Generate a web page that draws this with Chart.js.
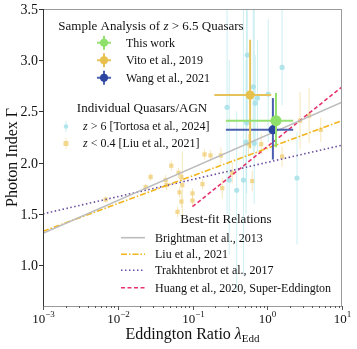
<!DOCTYPE html>
<html>
<head>
<meta charset="utf-8">
<script src="https://cdn.jsdelivr.net/npm/chart.js@4.4.0/dist/chart.umd.min.js"></script>
<style>
  html, body { margin: 0; padding: 0; background: #fff; }
</style>
</head>
<body>
<canvas id="chart" width="357" height="349"></canvas>
<script>
// ---- data ----
const xTicks = [1e-3, 1e-2, 1e-1, 1, 10];
const xTickExp = ['\u22123', '\u22122', '\u22121', '0', '1'];
const yTicks = [1.0, 1.5, 2.0, 2.5, 3.0, 3.5];

// z > 6.5 sample analyses
const sampleNames = ['This work', 'Vito et al., 2019', 'Wang et al., 2021'];
const sampleLambda = [1.31, 0.59, 1.19];
const sampleLambdaLo = [0.28, 0.196, 0.28];
const sampleLambdaHi = [2.22, 1.13, 2.22];
const sampleGamma = [2.41, 2.66, 2.32];
const sampleGammaLo = [2.15, 2.14, 2.03];
const sampleGammaHi = [2.68, 3.20, 2.63];

// z > 6 individual quasars [Tortosa et al., 2024]
const tortosaLambda = [0.54, 1.58, 0.65, 0.74, 0.69, 1.03, 0.29, 0.53, 0.52, 0.67, 0.31, 0.48, 2.5, 0.39];
const tortosaGamma = [3.05, 2.93, 2.74, 2.63, 2.58, 2.67, 2.54, 2.39, 2.20, 2.19, 1.83, 1.83, 1.85, 1.73];
const tortosaGammaLo = [2.35, 2.56, 2.10, 2.10, 2.15, 2.20, 1.50, 1.70, 1.50, 1.60, 1.10, 0.90, 1.20, 0.75];
const tortosaGammaHi = [3.70, 3.60, 3.60, 3.20, 3.05, 3.40, 3.60, 3.60, 3.00, 3.60, 3.00, 3.60, 2.30, 2.50];

// z < 0.4 AGN [Liu et al., 2021]
const liuLambda = [0.0069, 0.0236, 0.0275, 0.052, 0.065, 0.071, 0.0437, 0.045, 0.067, 0.071, 0.10, 0.10,
                   0.145, 0.174, 0.063, 0.24, 0.56, 0.83, 1.58, 0.25, 0.63, 0.34, 2.75, 3.63, 5.2, 0.136, 0.073];
const liuGamma = [1.64, 1.76, 1.86, 1.97, 1.90, 1.86, 1.83, 1.78, 1.71, 1.62, 1.70, 1.63,
                  2.08, 2.07, 1.52, 2.07, 2.18, 2.18, 2.06, 1.75, 1.82, 1.90, 2.41, 2.46, 2.32, 1.79, 1.78];
const liuGammaErr = [0.03, 0.03, 0.04, 0.05, 0.05, 0.05, 0.05, 0.05, 0.05, 0.06, 0.05, 0.05,
                     0.05, 0.05, 0.05, 0.08, 0.10, 0.10, 0.10, 0.10, 0.10, 0.10, 0.28, 0.27, 0.12, 0.05, 0.33];

// best-fit relations, end points
const fitLambda = [1e-3, 10];
const brightmanGamma = [1.31, 2.59];
const liuFitGamma = [1.33, 2.41];
const trakhGamma = [1.50, 2.17];
const huangLambda = [0.1, 10];
const huangGamma = [1.57, 2.74];
const fitNames = ['Brightman et al., 2013', 'Liu et al., 2021', 'Trakhtenbrot et al., 2017', 'Huang et al., 2020, Super-Eddington'];

// ---- styles ----
const FONT = "'Liberation Serif', 'Times New Roman', serif";
const sampleColors = ['#8fe06a', '#e8c04c', '#2c45a0'];
const sampleErrColors = ['#94e070', '#e6c25a', '#4a5fb0'];
const tortosaColor = 'rgba(160, 222, 230, 0.8)';
const tortosaErr = 'rgba(170, 228, 234, 0.6)';
const liuColor = 'rgba(240, 208, 120, 0.8)';
const liuErr = 'rgba(242, 214, 140, 0.6)';
const fitColors = ['#bcbcbc', '#f2b51c', '#6b4e9e', '#e6336b'];
const fitDash = [[], [6, 2, 1.5, 2], [1.5, 2.5], [4, 2.5]];

const pts = (xs, ys) => xs.map((x, i) => ({ x: x, y: ys[i] }));

const datasets = [];
sampleNames.forEach((name, i) => {
  datasets.push({
    label: name,
    data: [{ x: sampleLambda[i], y: sampleGamma[i] }],
    errY: [[sampleGammaLo[i], sampleGammaHi[i]]],
    errX: [[sampleLambdaLo[i], sampleLambdaHi[i]]],
    errColor: sampleErrColors[i], errWidth: 2,
    backgroundColor: sampleColors[i], borderWidth: 0,
    pointRadius: i === 0 ? 5.5 : 4.5, order: 0
  });
});
const fitData = [pts(fitLambda, brightmanGamma), pts(fitLambda, liuFitGamma), pts(fitLambda, trakhGamma), pts(huangLambda, huangGamma)];
fitNames.forEach((name, i) => {
  datasets.push({
    label: name, data: fitData[i], showLine: true, pointRadius: 0,
    borderColor: fitColors[i], borderWidth: 1.6, borderDash: fitDash[i], order: 1
  });
});
datasets.push({
  label: 'Tortosa', data: pts(tortosaLambda, tortosaGamma),
  errY: tortosaGamma.map((g, i) => [tortosaGammaLo[i], tortosaGammaHi[i]]),
  errColor: tortosaErr, errWidth: 1,
  backgroundColor: tortosaColor, borderWidth: 0, pointRadius: 2.6, order: 2
});
datasets.push({
  label: 'Liu', data: pts(liuLambda, liuGamma),
  errY: liuGamma.map((g, i) => [g - liuGammaErr[i], g + liuGammaErr[i]]),
  errColor: liuErr, errWidth: 1,
  backgroundColor: liuColor, borderWidth: 0, pointStyle: 'rect', pointRadius: 3, order: 3
});

// error bars under each dataset's markers
const errorBars = {
  id: 'errorBars',
  beforeDatasetDraw(chart, args) {
    const ds = chart.data.datasets[args.index];
    if (!ds.errY) return;
    const xs = chart.scales.x, ys = chart.scales.y, ctx = chart.ctx, a = chart.chartArea;
    ctx.save();
    ctx.beginPath();
    ctx.rect(a.left, a.top, a.right - a.left, a.bottom - a.top);
    ctx.clip();
    ctx.strokeStyle = ds.errColor;
    ctx.lineWidth = ds.errWidth;
    ds.data.forEach((p, i) => {
      const px = xs.getPixelForValue(p.x), py = ys.getPixelForValue(p.y);
      ctx.beginPath();
      ctx.moveTo(px, ys.getPixelForValue(ds.errY[i][0]));
      ctx.lineTo(px, ys.getPixelForValue(ds.errY[i][1]));
      ctx.stroke();
      if (ds.errX) {
        ctx.beginPath();
        ctx.moveTo(xs.getPixelForValue(ds.errX[i][0]), py);
        ctx.lineTo(xs.getPixelForValue(ds.errX[i][1]), py);
        ctx.stroke();
      }
    });
    ctx.restore();
  }
};

function drawRuns(ctx, parts, x, y, align) {
  let w = 0;
  parts.forEach(p => {
    ctx.font = (p.it ? 'italic ' : '') + p.sz + 'px ' + FONT;
    p.w = ctx.measureText(p.t).width;
    w += p.w;
  });
  let cx = align === 'center' ? x - w / 2 : align === 'right' ? x - w : x;
  ctx.textAlign = 'left';
  ctx.textBaseline = 'alphabetic';
  parts.forEach(p => {
    ctx.font = (p.it ? 'italic ' : '') + p.sz + 'px ' + FONT;
    ctx.fillText(p.t, cx, y + (p.dy || 0));
    cx += p.w;
  });
}
const R = (t, sz, it, dy) => ({ t: t, sz: sz, it: !!it, dy: dy || 0 });

// frame, ticks, axis labels and the three legends
const decorations = {
  id: 'decorations',
  afterDraw(chart) {
    const ctx = chart.ctx, a = chart.chartArea;
    const xs = chart.scales.x, ys = chart.scales.y;
    ctx.save();
    ctx.fillStyle = '#111';

    // frame
    ctx.lineWidth = 1;
    ctx.strokeStyle = '#9a9a9a';
    ctx.strokeRect(a.left + 0.5, a.top + 0.5, a.right - a.left - 1, a.bottom - a.top);
    ctx.strokeStyle = '#333';
    ctx.beginPath(); ctx.moveTo(a.left + 0.5, a.top); ctx.lineTo(a.left + 0.5, a.bottom); ctx.stroke();

    // y ticks
    yTicks.forEach(v => {
      const py = Math.round(ys.getPixelForValue(v)) + 0.5;
      ctx.strokeStyle = '#333';
      ctx.beginPath(); ctx.moveTo(a.left - 4, py); ctx.lineTo(a.left, py); ctx.stroke();
      ctx.font = '14px ' + FONT;
      ctx.textAlign = 'right'; ctx.textBaseline = 'middle';
      ctx.fillText(v.toFixed(1), a.left - 5, py + 1);
    });

    // x ticks (decades + minor)
    ctx.strokeStyle = '#555';
    xTicks.forEach((v, i) => {
      const px = Math.round(xs.getPixelForValue(v)) + 0.5;
      ctx.beginPath(); ctx.moveTo(px, a.bottom); ctx.lineTo(px, a.bottom + 4); ctx.stroke();
      drawRuns(ctx, [R('10', 13), R(xTickExp[i], 9, false, -6)], px, a.bottom + 17, 'center');
      if (i < xTicks.length - 1) {
        for (let m = 2; m <= 9; m++) {
          const mx = Math.round(xs.getPixelForValue(v * m)) + 0.5;
          ctx.beginPath(); ctx.moveTo(mx, a.bottom); ctx.lineTo(mx, a.bottom + 2); ctx.stroke();
        }
      }
    });

    // axis titles
    drawRuns(ctx, [R('Eddington Ratio ', 16), R('\u03bb', 16, true), R('Edd', 11, false, 3)], (a.left + a.right) / 2, 339, 'center');
    ctx.save();
    ctx.translate(17, (a.top + a.bottom) / 2);
    ctx.rotate(-Math.PI / 2);
    drawRuns(ctx, [R('Photon Index \u0393', 16)], 0, 0, 'center');
    ctx.restore();

    // legend 1: sample analyses
    drawRuns(ctx, [R('Sample Analysis of ', 13), R('z', 13, true), R(' > 6.5 Quasars', 13)], 151, 30, 'center');
    const base1 = [46.7, 64.3, 81.7];
    sampleNames.forEach((name, i) => {
      const my = base1[i] - 4;
      ctx.strokeStyle = sampleErrColors[i]; ctx.lineWidth = 2;
      ctx.beginPath(); ctx.moveTo(97, my); ctx.lineTo(111, my); ctx.moveTo(104, my - 7); ctx.lineTo(104, my + 7); ctx.stroke();
      ctx.fillStyle = sampleColors[i];
      ctx.beginPath(); ctx.arc(104, my, 4, 0, Math.PI * 2); ctx.fill();
      ctx.fillStyle = '#111';
      drawRuns(ctx, [R(name, 12)], 126, base1[i], 'left');
    });

    // legend 2: individual objects
    drawRuns(ctx, [R('Individual Quasars/AGN', 13)], 142, 111.7, 'center');
    ctx.lineWidth = 1;
    ctx.strokeStyle = tortosaErr;
    ctx.beginPath(); ctx.moveTo(66, 121); ctx.lineTo(66, 132); ctx.stroke();
    ctx.fillStyle = tortosaColor;
    ctx.beginPath(); ctx.arc(66, 126.5, 2.3, 0, Math.PI * 2); ctx.fill();
    ctx.strokeStyle = liuErr;
    ctx.beginPath(); ctx.moveTo(66, 138); ctx.lineTo(66, 149); ctx.stroke();
    ctx.fillStyle = liuColor;
    ctx.fillRect(63.5, 141, 5, 5);
    ctx.fillStyle = '#111';
    drawRuns(ctx, [R('z', 12, true), R(' > 6 [Tortosa et al., 2024]', 12)], 83, 130, 'left');
    drawRuns(ctx, [R('z', 12, true), R(' < 0.4 [Liu et al., 2021]', 12)], 83, 147.3, 'left');

    // legend 3: best-fit relations
    drawRuns(ctx, [R('Best-fit Relations', 13)], 226, 223.3, 'center');
    const base3 = [241.7, 258.3, 274.3, 291.7];
    fitNames.forEach((name, i) => {
      const ly = base3[i] - 4;
      ctx.strokeStyle = fitColors[i]; ctx.lineWidth = 1.6; ctx.setLineDash(fitDash[i]);
      ctx.beginPath(); ctx.moveTo(121, ly); ctx.lineTo(145, ly); ctx.stroke();
      ctx.setLineDash([]);
      drawRuns(ctx, [R(name, 12)], 155, base3[i], 'left');
    });
    ctx.restore();
  }
};

new Chart(document.getElementById('chart'), {
  type: 'scatter',
  data: { datasets: datasets },
  options: {
    responsive: false,
    animation: false,
    devicePixelRatio: 1,
    layout: { padding: { left: 43, right: 15, top: 9, bottom: 43 } },
    scales: {
      x: { type: 'logarithmic', min: 1e-3, max: 10, display: false },
      y: { type: 'linear', min: 0.6, max: 3.5, display: false }
    },
    plugins: { legend: { display: false }, tooltip: { enabled: false } }
  },
  plugins: [errorBars, decorations]
});
</script>
</body>
</html>
